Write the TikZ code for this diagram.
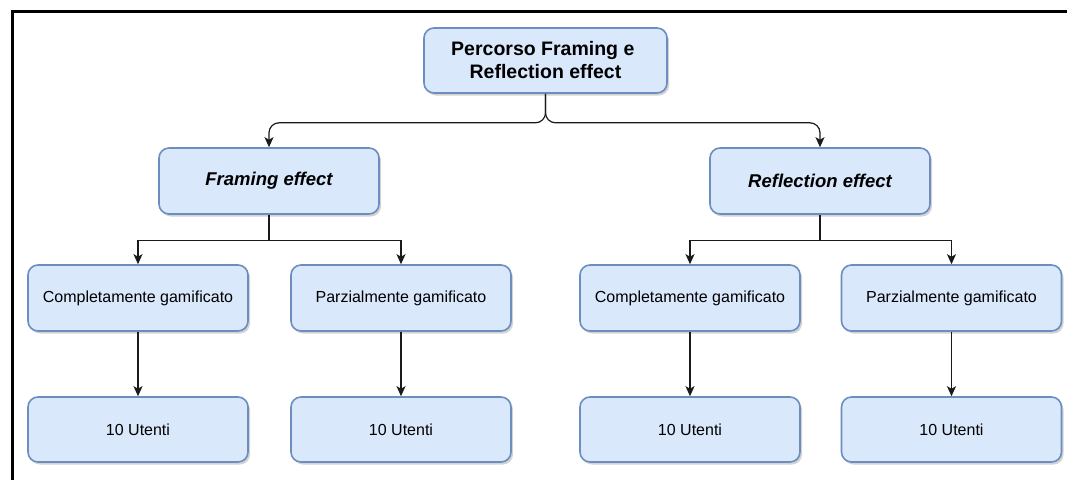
\documentclass[tikz,border=0pt]{standalone}
\usepackage{fontspec}
\setmainfont{Liberation Sans}
\usetikzlibrary{shadows,arrows.meta}
\definecolor{boxfill}{HTML}{DAE8FC}
\definecolor{boxline}{HTML}{6C8EBF}
\definecolor{conn}{HTML}{1A1A1A}
\tikzset{
  box/.style={draw=boxline, fill=boxfill, line width=1.6pt, rounded corners=10pt,
    minimum width=220pt, minimum height=66pt, align=center, inner sep=0pt,
    font=\fontsize{16}{19}\selectfont,
    drop shadow={shadow xshift=2pt, shadow yshift=-2.5pt, opacity=0.35, fill=gray}},
  conn/.style={draw=conn, line width=1.2pt, -{Stealth[length=10pt,width=9pt,inset=2.5pt]}},
}
\begin{document}
\begin{tikzpicture}[x=1pt,y=-1pt]
\useasboundingbox (0,0) rectangle (1067,479);
\draw[line width=3pt] (12,481) -- (12,11) -- (1069,11);

\node[box, minimum width=243pt, minimum height=65pt, font=\bfseries\fontsize{19.5}{23}\selectfont] (top) at (545.5,60.5) {Percorso Framing e\hbox to 5.4pt{}\\Reflection effect};
\node[box, font=\bfseries\itshape\fontsize{18.5}{22}\selectfont] (fr) at (269,181) {Framing effect};
\node[box, font=\bfseries\itshape\fontsize{18.5}{22}\selectfont] (re) at (820,181) {Reflection effect};

\node[box] (c1) at (138,298) {Completamente gamificato};
\node[box] (p1) at (401,298) {Parzialmente gamificato};
\node[box] (c2) at (690,298) {Completamente gamificato};
\node[box] (p2) at (951.5,298) {Parzialmente gamificato};

\node[box, minimum height=65pt] (u1) at (138,429.5) {10 Utenti};
\node[box, minimum height=65pt] (u2) at (401,429.5) {10 Utenti};
\node[box, minimum height=65pt] (u3) at (690,429.5) {10 Utenti};
\node[box, minimum height=65pt] (u4) at (951.5,429.5) {10 Utenti};

\draw[conn, rounded corners=10pt] (top.south) -- ++(0,29) -| (fr.north);
\draw[conn, rounded corners=10pt] (top.south) -- ++(0,29) -| (re.north);

\draw[conn] (fr.south) -- ++(0,26) -| (c1.north);
\draw[conn] (fr.south) -- ++(0,26) -| (p1.north);
\draw[conn] (re.south) -- ++(0,26) -| (c2.north);
\draw[conn] (re.south) -- ++(0,26) -| (p2.north);

\draw[conn] (c1.south) -- (u1.north);
\draw[conn] (p1.south) -- (u2.north);
\draw[conn] (c2.south) -- (u3.north);
\draw[conn] (p2.south) -- (u4.north);
\end{tikzpicture}
\end{document}
